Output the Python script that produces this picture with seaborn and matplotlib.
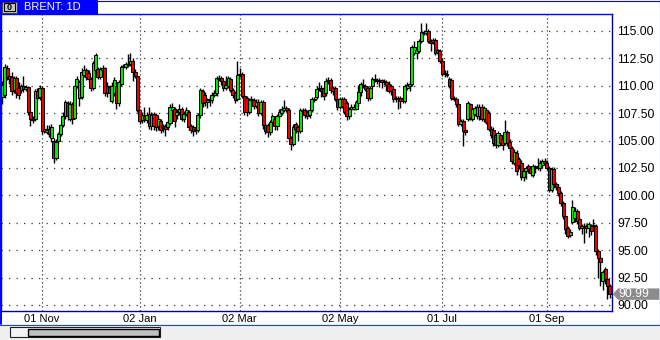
import numpy as np
import pandas as pd
import matplotlib
matplotlib.use("Agg")
import matplotlib.pyplot as plt
import seaborn as sns
from matplotlib.patches import Rectangle, Polygon
from matplotlib.lines import Line2D
from matplotlib.transforms import blended_transform_factory

sns.set_theme(style="white")
plt.rcParams["font.family"] = ["Liberation Sans", "DejaVu Sans"]

SYMBOL = "BRENT: 1D"

OPEN = [
    109.0, 109.2, 111.6, 110.9, 110.8, 109.6, 110.7, 109.8, 109.6, 110.0,
    109.7, 109.9, 107.6, 107.0, 107.0, 109.5, 109.0, 109.8, 106.1, 105.8,
    106.1, 105.2, 105.0, 103.4, 105.0, 105.6, 106.4, 107.2, 108.4, 107.0,
    108.3, 107.1, 110.0, 108.9, 109.0, 111.0, 111.4, 111.2, 110.6, 109.8,
    111.4, 111.5, 110.8, 111.4, 111.6, 110.0, 109.9, 108.6, 109.3, 110.0,
    108.4, 110.2, 111.7, 111.7, 111.9, 112.0, 112.3, 111.3, 110.9, 107.8,
    106.9, 107.2, 106.9, 107.4, 106.3, 107.4, 107.3, 106.3, 106.8, 106.3,
    106.3, 106.2, 106.6, 107.8, 107.9, 107.3, 107.6, 107.9, 107.0, 107.4,
    107.6, 106.3, 106.2, 106.0, 106.0, 107.3, 109.5, 109.2, 108.5, 108.7,
    108.7, 109.2, 109.3, 110.6, 110.7, 110.4, 109.8, 110.0, 110.6, 109.6,
    109.3, 108.8, 111.0, 111.1, 109.1, 108.9, 107.6, 108.7, 108.7, 108.2,
    108.5, 107.5, 108.5, 106.4, 106.4, 105.8, 106.7, 107.0, 106.3, 107.2,
    107.5, 107.8, 108.0, 107.8, 105.2, 104.7, 106.5, 106.2, 105.9, 107.7,
    107.8, 107.6, 107.3, 107.8, 108.8, 109.0, 109.7, 109.8, 109.8, 109.3,
    110.4, 110.5, 109.8, 109.8, 108.8, 108.1, 108.8, 108.8, 108.4, 107.2,
    107.9, 107.9, 107.9, 108.4, 109.4, 110.1, 110.0, 109.8, 108.9, 110.0,
    110.6, 110.5, 110.4, 110.5, 110.4, 110.3, 110.2, 110.0, 109.7, 108.9,
    108.8, 108.9, 108.8, 108.6, 109.8, 110.0, 110.2, 113.0, 113.0, 113.2,
    114.1, 114.9, 114.8, 115.0, 114.1, 114.2, 114.2, 113.3, 113.2, 112.3,
    111.2, 111.1, 110.6, 110.5, 108.9, 108.8, 108.3, 106.5, 106.8, 106.0,
    107.0, 108.3, 107.0, 107.4, 107.2, 107.2, 108.1, 107.0, 107.8, 107.5,
    106.1, 106.0, 105.5, 104.6, 105.5, 105.1, 104.8, 105.8, 104.9, 104.3,
    103.0, 103.9, 103.3, 103.0, 101.7, 102.2, 102.7, 102.5, 101.9, 102.5,
    102.6, 102.5, 102.8, 103.1, 103.0, 102.5, 100.5, 102.4, 101.0, 100.8,
    100.2, 99.3, 98.1, 97.0, 96.4, 97.6, 97.9, 98.6, 97.8, 97.05,
    97.2, 97.2, 97.05, 97.2, 97.2, 97.2, 94.9, 94.3, 92.2, 93.3,
    92.35, 91.75,
]
HIGH = [
    110.4, 112.0, 111.9, 111.2, 111.3, 110.9, 110.9, 110.3, 110.2, 110.9,
    110.1, 110.0, 107.8, 107.2, 109.7, 109.8, 110.1, 110.0, 106.3, 106.4,
    106.4, 106.5, 105.2, 105.1, 105.8, 106.6, 107.6, 108.7, 108.6, 108.6,
    108.5, 110.2, 110.9, 110.5, 111.6, 111.9, 111.6, 111.4, 110.8, 112.3,
    113.0, 111.7, 111.7, 111.9, 111.7, 110.3, 110.1, 110.3, 110.8, 110.2,
    110.5, 111.9, 112.0, 112.2, 112.9, 113.0, 112.5, 111.5, 111.0, 107.9,
    107.6, 108.1, 107.6, 108.1, 107.6, 107.6, 107.5, 107.2, 107.0, 106.5,
    106.5, 106.9, 108.3, 108.4, 108.1, 107.9, 108.3, 108.1, 107.7, 108.1,
    107.8, 106.5, 106.4, 106.3, 107.5, 109.8, 109.7, 109.4, 108.9, 109.1,
    109.4, 109.6, 110.9, 111.0, 110.9, 110.6, 110.9, 110.9, 110.8, 109.8,
    109.5, 112.3, 111.6, 111.3, 109.3, 109.1, 108.9, 109.1, 108.9, 108.8,
    108.8, 108.7, 108.7, 106.6, 106.6, 106.9, 107.4, 107.2, 107.4, 107.9,
    108.2, 108.7, 108.2, 108.0, 105.4, 106.5, 106.7, 106.4, 108.0, 108.0,
    108.0, 107.8, 108.0, 109.0, 109.0, 110.0, 110.3, 110.1, 110.0, 110.7,
    110.8, 110.7, 110.0, 110.0, 109.0, 109.0, 109.0, 109.0, 108.6, 108.1,
    108.3, 108.3, 108.7, 110.1, 110.3, 110.6, 110.2, 110.0, 110.0, 110.8,
    111.1, 110.7, 110.7, 110.6, 110.6, 110.5, 110.4, 110.2, 109.9, 109.1,
    109.1, 109.1, 109.0, 110.2, 110.3, 110.4, 113.7, 114.1, 113.5, 114.3,
    115.7, 115.1, 115.7, 115.2, 114.3, 114.4, 114.4, 113.4, 113.4, 112.5,
    111.4, 111.4, 110.8, 110.7, 109.1, 109.0, 108.5, 107.0, 107.0, 106.2,
    108.6, 108.4, 108.1, 108.2, 108.3, 108.3, 108.3, 108.2, 108.0, 107.7,
    106.3, 106.2, 105.7, 105.9, 105.7, 105.3, 106.9, 106.0, 105.1, 104.5,
    104.2, 104.1, 103.5, 103.2, 102.4, 102.7, 102.9, 102.7, 102.9, 102.8,
    103.4, 103.2, 103.3, 103.4, 103.2, 102.7, 102.6, 102.6, 101.2, 101.0,
    100.4, 99.5, 98.3, 97.2, 96.9, 99.6, 98.9, 98.8, 98.0, 97.4,
    97.5, 97.4, 97.6, 97.4, 97.8, 97.4, 95.1, 94.5, 93.2, 93.5,
    92.5, 91.9,
]
LOW = [
    108.3, 108.9, 110.5, 110.2, 109.2, 109.3, 108.9, 108.8, 109.3, 109.4,
    109.5, 107.3, 106.3, 106.6, 106.8, 108.6, 108.7, 105.6, 105.7, 105.6,
    105.3, 104.9, 103.0, 103.2, 104.8, 105.4, 106.2, 107.0, 106.9, 106.8,
    106.5, 107.0, 109.8, 108.2, 108.8, 110.8, 110.5, 110.3, 109.5, 109.6,
    111.2, 110.6, 110.6, 111.2, 109.1, 109.0, 108.6, 108.4, 109.1, 107.9,
    108.2, 110.0, 111.5, 111.5, 111.7, 111.8, 110.4, 110.7, 107.6, 106.5,
    106.6, 106.7, 106.6, 106.1, 106.0, 106.0, 105.9, 106.0, 105.7, 105.8,
    105.4, 106.0, 106.4, 107.6, 106.2, 107.0, 107.3, 106.8, 106.7, 107.2,
    106.0, 105.7, 105.4, 105.6, 105.8, 107.1, 108.1, 108.2, 108.0, 108.2,
    108.4, 109.0, 109.1, 110.4, 110.1, 109.5, 109.6, 109.8, 109.4, 108.9,
    108.4, 108.6, 110.8, 108.9, 107.3, 107.2, 107.4, 108.4, 107.9, 108.0,
    107.2, 107.3, 106.1, 105.6, 105.3, 105.5, 106.5, 106.0, 106.0, 107.0,
    107.3, 107.6, 107.6, 105.0, 104.1, 104.5, 105.7, 105.0, 105.7, 107.5,
    107.1, 107.0, 107.1, 107.6, 108.5, 108.8, 109.5, 109.0, 108.7, 109.1,
    110.2, 109.3, 109.2, 108.6, 107.8, 107.9, 108.0, 107.4, 106.9, 107.0,
    107.7, 107.8, 107.8, 108.2, 109.1, 109.8, 109.5, 108.6, 108.7, 109.8,
    110.3, 110.2, 109.9, 109.8, 110.1, 109.5, 109.3, 109.2, 108.5, 108.5,
    107.9, 108.0, 108.4, 108.4, 109.6, 109.5, 110.0, 112.8, 112.4, 113.0,
    113.9, 114.6, 114.6, 113.9, 113.2, 113.8, 112.8, 112.8, 112.1, 110.9,
    110.8, 110.8, 109.8, 108.7, 108.6, 108.1, 106.3, 106.3, 104.5, 105.5,
    106.8, 106.9, 106.8, 107.2, 107.0, 106.9, 106.8, 106.7, 106.5, 105.9,
    105.2, 104.5, 104.3, 104.4, 104.5, 104.1, 104.6, 104.5, 104.0, 102.9,
    102.8, 101.9, 102.4, 101.4, 101.3, 101.5, 102.0, 101.8, 101.7, 102.0,
    102.3, 102.2, 102.5, 102.8, 102.3, 100.3, 100.3, 100.7, 100.5, 99.9,
    99.0, 97.8, 96.5, 96.1, 96.2, 97.4, 97.6, 97.4, 96.8, 96.5,
    95.7, 96.6, 96.2, 96.4, 96.9, 94.6, 92.5, 91.7, 91.4, 91.9,
    90.5, 90.6,
]
CLOSE = [
    110.1, 111.7, 110.8, 110.6, 109.5, 110.7, 109.3, 109.2, 110.0, 109.7,
    109.9, 107.6, 107.0, 106.9, 109.5, 108.9, 109.8, 105.9, 105.9, 106.0,
    105.6, 106.2, 103.4, 104.9, 105.6, 106.4, 107.2, 108.5, 107.2, 108.3,
    107.0, 110.0, 110.6, 110.3, 111.3, 111.4, 110.8, 110.6, 109.8, 112.1,
    112.8, 110.8, 111.5, 111.6, 109.3, 109.3, 109.3, 110.0, 110.5, 108.4,
    110.3, 111.7, 111.8, 112.0, 112.0, 112.3, 111.3, 110.9, 107.8, 106.8,
    107.3, 107.0, 107.3, 106.3, 107.3, 106.3, 106.2, 107.0, 106.0, 106.2,
    106.1, 106.7, 108.1, 108.1, 106.8, 107.6, 107.9, 107.0, 107.4, 107.8,
    106.2, 106.0, 105.9, 106.1, 107.3, 109.6, 108.4, 108.5, 108.7, 108.8,
    109.2, 109.3, 110.7, 110.7, 110.4, 109.8, 110.1, 110.7, 109.6, 109.2,
    108.7, 111.0, 111.1, 109.1, 107.6, 107.6, 108.7, 108.8, 108.2, 108.5,
    107.5, 108.5, 106.4, 105.9, 105.8, 106.7, 107.2, 106.3, 107.2, 107.6,
    107.9, 108.0, 107.8, 105.2, 104.7, 106.2, 106.1, 105.9, 107.8, 107.8,
    107.3, 107.2, 107.8, 108.8, 108.7, 109.7, 109.8, 109.5, 109.1, 110.4,
    110.5, 109.6, 109.5, 108.8, 108.1, 108.8, 108.2, 107.6, 107.2, 107.9,
    108.1, 108.1, 108.5, 109.4, 110.2, 110.0, 109.7, 108.9, 109.8, 110.6,
    110.5, 110.4, 110.5, 110.3, 110.3, 110.1, 109.5, 109.5, 108.8, 108.8,
    108.9, 108.6, 108.6, 110.0, 110.1, 110.2, 113.5, 113.5, 113.3, 114.1,
    114.9, 114.8, 115.0, 114.1, 113.9, 114.0, 113.0, 113.0, 112.3, 111.1,
    111.1, 111.0, 110.0, 108.9, 108.8, 108.3, 106.5, 106.8, 105.9, 105.8,
    108.4, 107.1, 107.9, 108.0, 108.1, 108.1, 107.0, 108.0, 106.7, 106.1,
    105.5, 104.8, 104.6, 105.7, 104.8, 104.6, 105.8, 104.8, 104.3, 103.1,
    104.0, 102.2, 102.8, 101.7, 102.2, 102.5, 102.4, 102.0, 102.7, 102.6,
    102.7, 103.0, 103.1, 103.0, 102.5, 100.5, 102.4, 101.0, 100.8, 100.2,
    99.3, 98.1, 96.9, 96.3, 96.7, 98.9, 98.6, 97.7, 97.05, 97.2,
    97.2, 97.05, 97.35, 96.75, 97.3, 94.9, 94.3, 93.9, 93.0, 92.35,
    91.75, 90.99,
]

PRICE_TICKS = [90.0, 92.5, 95.0, 97.5, 100.0, 102.5, 105.0, 107.5, 110.0, 112.5, 115.0]
DATE_TICK_BARS = [17, 59, 102, 145, 189, 234]
DATE_TICK_LABELS = ["01 Nov", "02 Jan", "02 Mar", "02 May", "01 Jul", "01 Sep"]
LAST_PRICE = 90.99

df = pd.DataFrame({"open": OPEN, "high": HIGH, "low": LOW, "close": CLOSE})
df["bar"] = np.arange(len(df))
df["up"] = df["close"] >= df["open"]

W, H = 660, 340
BLUE = "#0000ff"
NAVY = "#000099"

fig = plt.figure(figsize=(W / 100, H / 100), dpi=100)
fig.patch.set_facecolor("white")


def fx(x):
    return x / W


def fy(y):
    return 1 - y / H


# bottom grey strip and scrollbar
fig.patches.append(Rectangle((0, 0), 1, 16 / H, transform=fig.transFigure,
                             facecolor="#f0f0f0", edgecolor="none", zorder=0))
fig.patches.append(Rectangle((fx(10), fy(337)), 150 / W, 10 / H, transform=fig.transFigure,
                             facecolor="#f4f4f4", edgecolor="#202020", lw=0.8, zorder=2))
fig.patches.append(Rectangle((fx(28), fy(336)), 131 / W, 7.5 / H, transform=fig.transFigure,
                             facecolor="#c0c0c0", edgecolor="black", lw=1.0, zorder=3))

# outer frame
fig.lines.append(Line2D([fx(0.5), fx(0.5)], [fy(0), fy(324)], transform=fig.transFigure,
                        color=BLUE, lw=1.4, zorder=5))
fig.lines.append(Line2D([0, 1], [fy(0.5), fy(0.5)], transform=fig.transFigure,
                        color=BLUE, lw=0.8, zorder=5))
fig.lines.append(Line2D([fx(659.5), fx(659.5)], [fy(0), fy(324)], transform=fig.transFigure,
                        color=BLUE, lw=0.8, zorder=5))
fig.lines.append(Line2D([0, 1], [fy(324.5), fy(324.5)], transform=fig.transFigure,
                        color="#1f4fa8", lw=0.8, zorder=5))

# title tab
fig.patches.append(Rectangle((0, fy(14)), 98 / W, 14 / H, transform=fig.transFigure,
                             facecolor=BLUE, edgecolor="none", zorder=4))
fig.patches.append(Rectangle((fx(2), fy(12.5)), 15 / W, 11 / H, transform=fig.transFigure,
                             facecolor="#c8c8c8", edgecolor="#404040", lw=0.8, zorder=5))
fig.patches.append(Rectangle((fx(4), fy(11)), 11 / W, 8 / H, transform=fig.transFigure,
                             facecolor="#c8c8c8", edgecolor="black", lw=0.8, zorder=6))
fig.text(fx(9.5), fy(7), "0", color="black", fontsize=6.5, fontweight="bold",
         ha="center", va="center", zorder=7)
fig.text(fx(24), fy(7.2), SYMBOL, color="white", fontsize=8, ha="left", va="center", zorder=7)

# main axes
ax = fig.add_axes([fx(1), 29 / H, 611 / W, 297 / H])
ax.set_facecolor("white")
ax.set_xlim(-0.64, 262.0)
ax.set_ylim(89.45, 116.55)

for p in PRICE_TICKS:
    ax.axhline(p, color="#333333", lw=0.9, ls=(0, (1, 5)), zorder=1)
for b in DATE_TICK_BARS:
    ax.axvline(b, color="#333333", lw=0.9, ls=(0, (1, 2.2)), zorder=1)

colors = np.where(df["up"], "#00f000", "#f00000")
ax.vlines(df["bar"], df["low"], df["high"], color="black", lw=1.0, zorder=2)
ax.bar(df["bar"], df["close"] - df["open"], bottom=df["open"], width=1.3,
       color=colors, edgecolor="black", linewidth=0.75, zorder=3)

ax.yaxis.tick_right()
ax.set_yticks(PRICE_TICKS)
ax.set_yticklabels([f"{p:.2f}" for p in PRICE_TICKS])
ax.set_xticks(DATE_TICK_BARS)
ax.set_xticklabels(DATE_TICK_LABELS)
ax.tick_params(axis="y", length=0, pad=4, labelsize=8.8, labelcolor="black")
ax.tick_params(axis="x", length=0, pad=2.5, labelsize=8, labelcolor="black")
ax.set_xlabel("")
ax.set_ylabel("")

for side in ["top", "left"]:
    ax.spines[side].set_color(BLUE)
    ax.spines[side].set_linewidth(1.0)
for side in ["right", "bottom"]:
    ax.spines[side].set_color(NAVY)
    ax.spines[side].set_linewidth(1.0)

# last price tag
tr = blended_transform_factory(ax.transAxes, ax.transData)
hh = 0.52
tag = Polygon([(1.0016, LAST_PRICE), (1.0098, LAST_PRICE + hh), (1.0775, LAST_PRICE + hh),
               (1.0775, LAST_PRICE - hh), (1.0098, LAST_PRICE - hh)],
              closed=True, transform=tr, facecolor="#8c8c8c", edgecolor="none",
              clip_on=False, zorder=6)
ax.add_patch(tag)
ax.text(1.0105, LAST_PRICE, f"{LAST_PRICE:.2f}", transform=tr, color="white",
        fontsize=8.8, ha="left", va="center", clip_on=False, zorder=7)

fig.savefig("out.png", dpi=100)
